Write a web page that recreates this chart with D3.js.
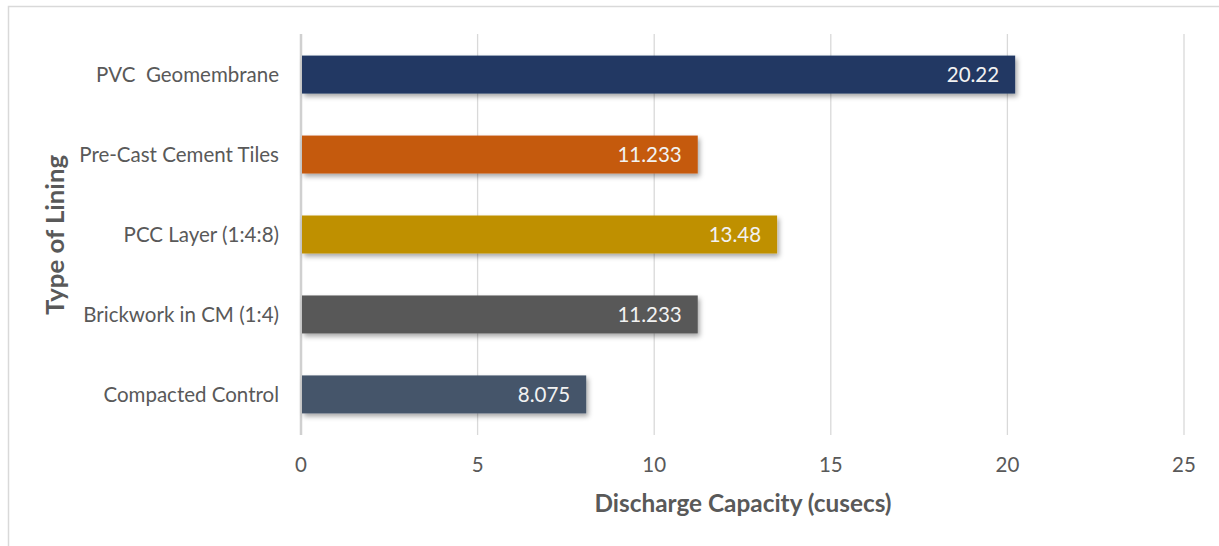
<!DOCTYPE html>
<html><head><meta charset="utf-8">
<script src="https://cdn.jsdelivr.net/npm/d3@7"></script>
<style>body{margin:0;background:#fff;}svg{display:block;font-family:Lato,"Open Sans",sans-serif;}</style>
</head><body>
<svg id="c" width="1219" height="546"></svg>
<script>
const categories = ["PVC  Geomembrane","Pre-Cast Cement Tiles","PCC Layer (1:4:8)","Brickwork in CM (1:4)","Compacted Control"];
const values = [20.22, 11.233, 13.48, 11.233, 8.075];
const valueLabels = ["20.22","11.233","13.48","11.233","8.075"];
const colors = ["#203864","#c55a11","#bf9000","#595959","#44546a"];
const xTicks = [0,5,10,15,20,25];
const xTitle = "Discharge Capacity (cusecs)";
const yTitle = "Type of Lining";

const svg = d3.select("#c");
const defs = svg.append("defs");
const f = defs.append("filter").attr("id","sh").attr("x","-5%").attr("y","-20%").attr("width","115%").attr("height","160%");
f.append("feDropShadow").attr("dx",2).attr("dy",3).attr("stdDeviation",2.5).attr("flood-color","#000").attr("flood-opacity",0.35);

// outer border
svg.append("rect").attr("x",8.5).attr("y",6.5).attr("width",1230).attr("height",560).attr("fill","none").attr("stroke","#d9d9d9").attr("stroke-width",1.5);

const x = d3.scaleLinear().domain([0,25]).range([301,1184]);
const y = d3.scaleBand().domain(categories).range([34,435]).paddingInner(0.525).paddingOuter(0.27);

// gridlines
svg.append("g").selectAll("line").data(xTicks.slice(1)).join("line")
  .attr("x1",d=>x(d)).attr("x2",d=>x(d)).attr("y1",34).attr("y2",435)
  .attr("stroke","#d9d9d9").attr("stroke-width",1.3);
// zero axis line
svg.append("line").attr("x1",x(0)).attr("x2",x(0)).attr("y1",34).attr("y2",435).attr("stroke","#d0d0d0").attr("stroke-width",2.5);

// bars
svg.append("g").selectAll("rect").data(categories).join("rect")
  .attr("x",x(0)+1).attr("y",d=>y(d)).attr("width",(d,i)=>x(values[i])-x(0)-1).attr("height",y.bandwidth())
  .attr("fill",(d,i)=>colors[i]).attr("filter","url(#sh)");

// value labels
svg.append("g").selectAll("text").data(categories).join("text")
  .attr("x",(d,i)=>x(values[i])-16).attr("y",d=>y(d)+y.bandwidth()/2).attr("dy","0.35em")
  .attr("text-anchor","end").attr("fill","#f2f2f2").attr("font-size",20.5).text((d,i)=>valueLabels[i]);

// category labels
svg.append("g").selectAll("text").data(categories).join("text")
  .attr("x",279).attr("y",d=>y(d)+y.bandwidth()/2).attr("dy","0.35em")
  .attr("text-anchor","end").attr("fill","#595959").attr("font-size",20.5).attr("xml:space","preserve")
  .style("white-space","pre").text(d=>d);

// x tick labels
svg.append("g").selectAll("text").data(xTicks).join("text")
  .attr("x",d=>x(d)).attr("y",472).attr("text-anchor","middle")
  .attr("fill","#595959").attr("font-size",20.5).text(d=>d);

// titles
svg.append("text").attr("x",743).attr("y",512).attr("text-anchor","middle")
  .attr("fill","#595959").attr("font-size",24).attr("font-weight","bold")
  .attr("textLength",297).attr("lengthAdjust","spacingAndGlyphs").text(xTitle);
svg.append("text").attr("transform","translate(63.5,235) rotate(-90)").attr("text-anchor","middle")
  .attr("fill","#595959").attr("font-size",24).attr("font-weight","bold")
  .attr("textLength",160).attr("lengthAdjust","spacingAndGlyphs").text(yTitle);
</script>
</body></html>
